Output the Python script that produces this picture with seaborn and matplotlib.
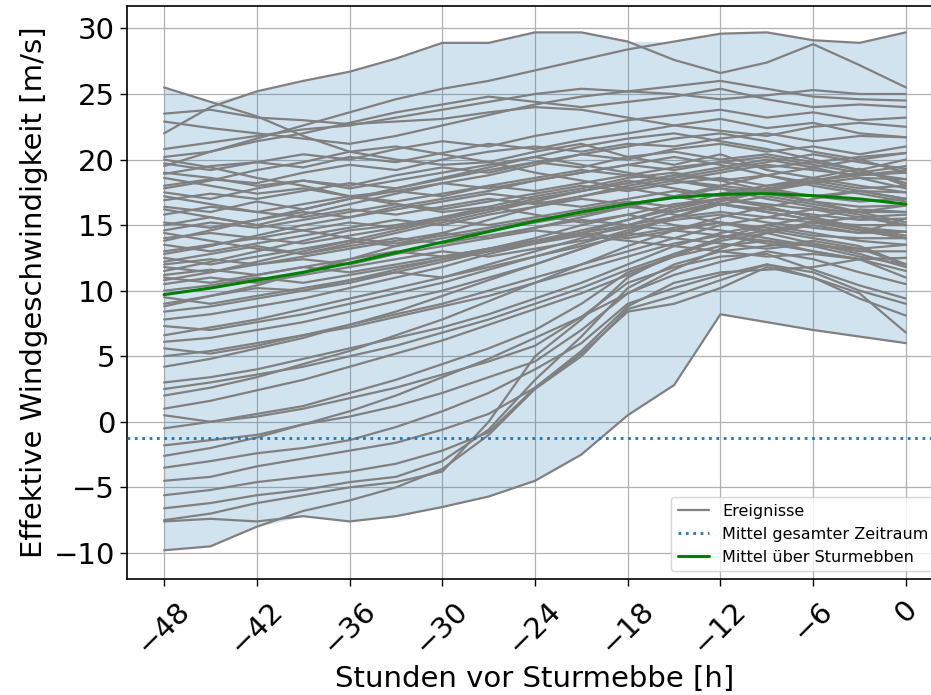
import numpy as np
import pandas as pd
import matplotlib
matplotlib.use("Agg")
import matplotlib.pyplot as plt
from matplotlib.lines import Line2D
import seaborn as sns

# hours before storm ebb (3-hour sampling)
hours = [-48, -45, -42, -39, -36, -33, -30, -27, -24, -21, -18, -15, -12, -9, -6, -3, 0]

# individual events (effective wind speed, m/s)
ev01 = [22.0, 24.0, 25.2, 26.0, 26.7, 27.7, 28.9, 28.9, 29.7, 29.7, 29.0, 27.6, 26.6, 27.4, 28.8, 27.2, 25.5]
ev02 = [19.5, 20.6, 21.6, 22.6, 23.6, 24.6, 25.4, 26.0, 26.8, 27.6, 28.4, 29.0, 29.6, 29.7, 29.1, 28.9, 29.7]
ev03 = [25.5, 24.4, 23.3, 21.8, 20.6, 20.0, 19.6, 19.8, 20.6, 21.2, 20.2, 19.6, 20.4, 19.2, 18.6, 19.3, 18.0]
ev04 = [23.5, 23.8, 23.2, 23.0, 22.7, 22.9, 23.1, 23.6, 24.0, 23.8, 23.2, 22.6, 23.1, 22.4, 22.8, 22.0, 21.7]
ev05 = [22.9, 22.4, 22.0, 21.6, 21.2, 21.8, 22.6, 23.4, 24.2, 24.8, 25.2, 25.0, 24.6, 24.9, 25.3, 25.0, 25.0]
ev06 = [20.8, 21.3, 21.8, 22.3, 22.6, 23.2, 23.8, 24.4, 25.0, 25.4, 25.2, 25.6, 26.0, 25.4, 24.8, 24.6, 24.5]
ev07 = [20.2, 20.6, 21.4, 22.0, 22.8, 23.6, 24.2, 24.8, 24.4, 24.0, 24.4, 24.8, 25.4, 24.6, 24.0, 24.2, 24.0]
ev08 = [18.9, 19.5, 19.8, 20.4, 20.0, 20.8, 21.4, 21.0, 21.8, 22.4, 23.0, 23.4, 23.8, 23.2, 23.6, 23.0, 23.2]
ev09 = [19.7, 19.2, 19.8, 19.4, 20.2, 19.8, 20.5, 21.2, 20.8, 21.5, 22.0, 22.6, 22.2, 21.8, 22.5, 22.8, 22.5]
ev10 = [18.0, 18.5, 18.2, 19.0, 19.6, 19.2, 20.0, 20.6, 21.0, 20.6, 21.2, 21.0, 21.6, 22.0, 21.4, 21.8, 21.7]
ev11 = [17.5, 17.0, 17.8, 18.4, 18.0, 18.8, 19.4, 19.0, 19.8, 20.4, 20.0, 20.8, 21.2, 20.6, 21.0, 20.4, 21.0]
ev12 = [16.9, 17.4, 17.0, 17.6, 18.2, 17.8, 18.5, 19.2, 19.8, 19.4, 20.2, 20.6, 20.0, 20.4, 19.8, 20.2, 20.5]
ev13 = [16.4, 16.0, 16.8, 16.2, 17.0, 17.6, 17.2, 18.0, 18.6, 19.2, 18.8, 19.4, 19.8, 19.4, 19.8, 19.2, 20.0]
ev14 = [18.6, 18.0, 17.4, 17.8, 17.2, 17.6, 18.2, 17.8, 18.4, 19.0, 19.6, 19.2, 19.8, 20.2, 19.6, 19.0, 19.5]
ev15 = [15.8, 16.4, 16.0, 16.6, 17.2, 16.8, 17.4, 18.0, 17.6, 18.2, 18.8, 18.4, 19.0, 19.6, 19.2, 18.8, 19.0]
ev16 = [15.2, 14.8, 15.4, 16.0, 15.6, 16.2, 16.8, 17.4, 17.0, 17.6, 18.2, 18.8, 18.4, 18.8, 18.2, 18.6, 18.5]
ev17 = [14.6, 15.2, 14.8, 15.4, 16.0, 16.6, 16.2, 16.8, 17.4, 18.0, 17.6, 18.2, 18.6, 18.0, 18.4, 17.8, 18.0]
ev18 = [17.2, 16.6, 16.0, 15.6, 16.2, 15.8, 16.4, 17.0, 16.6, 17.2, 17.8, 18.4, 18.0, 17.6, 18.2, 17.6, 17.5]
ev19 = [14.0, 14.4, 14.0, 14.6, 15.2, 14.8, 15.6, 16.2, 16.8, 16.4, 17.0, 17.6, 17.2, 17.8, 17.2, 16.8, 17.0]
ev20 = [13.5, 13.0, 13.6, 14.2, 14.8, 15.4, 15.0, 15.8, 16.4, 17.0, 16.6, 17.2, 17.8, 17.4, 16.8, 16.4, 16.5]
ev21 = [13.0, 13.5, 14.0, 13.6, 14.2, 14.8, 15.4, 15.0, 15.6, 16.2, 16.8, 16.4, 17.0, 16.6, 16.2, 16.0, 16.0]
ev22 = [12.5, 12.0, 12.6, 13.2, 13.8, 13.4, 14.0, 14.6, 15.2, 15.8, 16.4, 16.0, 16.6, 16.2, 15.8, 15.4, 15.5]
ev23 = [12.0, 12.4, 12.0, 12.6, 13.2, 13.8, 14.4, 14.0, 14.8, 15.4, 15.0, 15.6, 16.0, 15.6, 15.2, 15.0, 15.0]
ev24 = [11.8, 11.4, 12.0, 12.4, 12.0, 12.8, 13.4, 14.0, 14.6, 14.2, 14.8, 15.4, 15.8, 15.2, 14.8, 14.4, 14.5]
ev25 = [11.2, 11.6, 11.2, 11.8, 12.4, 13.0, 12.6, 13.2, 13.8, 14.4, 15.0, 14.6, 15.2, 14.8, 14.2, 14.0, 14.0]
ev26 = [11.0, 10.6, 11.2, 11.8, 11.4, 12.0, 12.6, 13.2, 13.8, 14.4, 14.0, 14.6, 14.2, 13.8, 13.4, 13.2, 13.5]
ev27 = [10.5, 11.0, 10.6, 11.2, 11.8, 12.4, 13.0, 12.6, 13.2, 13.8, 14.4, 14.0, 13.6, 13.2, 13.6, 13.0, 13.0]
ev28 = [10.0, 10.4, 11.0, 10.6, 11.2, 11.8, 12.4, 13.0, 13.6, 14.2, 13.8, 13.4, 13.0, 12.6, 12.8, 12.4, 12.5]
ev29 = [9.5, 9.0, 9.6, 10.2, 10.8, 11.4, 11.0, 11.8, 12.6, 13.4, 14.2, 14.8, 15.2, 14.6, 14.0, 13.4, 12.0]
ev30 = [9.0, 9.6, 10.2, 10.0, 10.8, 11.6, 12.4, 13.2, 14.0, 15.0, 15.8, 16.6, 17.0, 16.4, 15.6, 14.8, 14.0]
ev31 = [8.4, 8.8, 9.4, 10.0, 10.6, 11.4, 12.2, 13.0, 13.8, 14.6, 15.4, 16.2, 17.0, 17.6, 17.2, 17.6, 17.0]
ev32 = [7.8, 8.2, 8.8, 9.4, 10.2, 11.0, 11.8, 12.8, 13.6, 14.4, 15.4, 16.4, 17.4, 18.0, 18.6, 18.0, 17.5]
ev33 = [7.3, 7.0, 7.6, 8.2, 9.0, 9.8, 10.6, 11.6, 12.6, 13.6, 14.6, 15.6, 16.6, 17.2, 16.6, 16.0, 16.5]
ev34 = [6.6, 7.2, 7.8, 8.6, 9.4, 10.2, 11.0, 12.0, 13.0, 14.0, 15.0, 16.0, 16.8, 17.6, 18.4, 19.0, 18.5]
ev35 = [6.1, 6.4, 7.0, 7.6, 8.4, 9.2, 10.0, 11.0, 12.0, 13.2, 14.4, 15.6, 16.6, 16.0, 15.4, 14.8, 14.5]
ev36 = [5.6, 5.2, 5.8, 6.6, 7.4, 8.2, 9.0, 10.0, 11.0, 12.0, 13.0, 14.0, 15.0, 15.6, 16.2, 15.6, 15.0]
ev37 = [5.0, 5.4, 6.0, 6.6, 7.2, 8.0, 8.8, 9.6, 10.6, 11.6, 12.6, 13.6, 14.2, 13.6, 13.0, 12.4, 11.0]
ev38 = [3.0, 3.4, 4.0, 4.8, 5.6, 6.4, 7.2, 8.2, 9.4, 10.6, 12.0, 13.4, 14.4, 15.0, 14.4, 13.8, 13.5]
ev39 = [2.5, 3.0, 3.6, 4.2, 5.0, 5.8, 6.8, 7.8, 9.0, 10.2, 11.6, 12.8, 13.8, 14.4, 15.0, 14.4, 15.5]
ev40 = [1.0, 1.6, 2.4, 3.2, 4.2, 5.2, 6.2, 7.4, 8.6, 9.8, 11.2, 12.6, 14.0, 15.0, 15.6, 16.2, 16.0]
ev41 = [0.5, 0.0, 0.6, 1.2, 2.2, 3.2, 4.4, 5.6, 7.0, 9.0, 11.4, 12.6, 13.4, 13.8, 13.0, 12.4, 11.5]
ev42 = [-0.5, 0.0, 0.4, 1.0, 1.8, 2.6, 3.6, 4.6, 5.8, 8.0, 10.6, 11.8, 12.6, 12.8, 11.6, 10.4, 9.4]
ev43 = [-1.8, -1.4, -1.0, -0.2, 0.4, 1.2, 2.2, 3.4, 4.6, 7.0, 9.8, 11.2, 12.2, 13.0, 12.4, 11.4, 10.5]
ev44 = [-3.5, -3.0, -2.4, -2.0, -1.4, -0.4, 0.8, 2.2, 4.0, 6.0, 9.0, 10.2, 11.2, 12.0, 11.0, 9.4, 8.1]
ev45 = [-4.5, -4.2, -3.4, -2.8, -2.2, -1.6, -0.6, 0.6, 2.6, 5.2, 8.4, 9.0, 10.2, 11.8, 11.0, 9.8, 6.8]
ev46 = [-5.6, -5.2, -4.6, -4.2, -3.8, -3.2, -2.2, -0.8, 2.6, 5.4, 8.8, 10.6, 11.4, 11.6, 11.8, 12.4, 12.5]
ev47 = [-6.6, -6.2, -5.6, -5.2, -4.6, -4.2, -3.0, -0.6, 3.2, 6.5, 10.2, 12.0, 13.0, 13.4, 13.8, 13.2, 12.0]
ev48 = [-7.5, -7.0, -6.2, -5.6, -5.0, -4.6, -3.8, 0.0, 5.0, 7.8, 11.0, 12.8, 14.0, 14.6, 15.2, 14.6, 14.0]
ev49 = [-7.6, -7.4, -7.6, -7.2, -7.6, -7.2, -6.5, -5.7, -4.5, -2.5, 0.5, 2.8, 8.2, 7.6, 7.0, 6.5, 6.0]
ev50 = [-9.8, -9.5, -8.0, -6.8, -6.0, -5.0, -3.6, -1.0, 2.5, 5.0, 8.6, 9.6, 10.8, 12.0, 11.4, 10.0, 9.0]
ev51 = [20.0, 19.4, 18.6, 18.0, 17.2, 16.6, 16.0, 16.4, 15.8, 15.2, 15.8, 15.0, 14.6, 14.0, 13.4, 12.6, 12.0]
ev52 = [17.8, 18.4, 19.2, 19.8, 20.6, 21.0, 20.4, 19.8, 19.0, 18.4, 17.8, 17.2, 16.6, 16.0, 15.4, 14.6, 14.0]
ev53 = [15.0, 15.6, 15.0, 15.8, 16.6, 17.4, 18.2, 18.8, 19.6, 20.4, 21.0, 21.6, 22.0, 21.4, 20.6, 20.0, 19.0]
ev54 = [12.8, 13.4, 14.2, 15.0, 15.6, 16.4, 17.0, 17.6, 18.4, 19.0, 19.6, 20.2, 19.6, 18.8, 18.0, 17.4, 16.8]
ev55 = [10.8, 11.4, 12.2, 13.0, 13.8, 14.6, 15.4, 16.2, 17.0, 17.6, 18.2, 18.8, 19.4, 20.0, 19.4, 18.6, 17.8]
ev56 = [14.4, 13.8, 13.2, 12.8, 13.4, 14.0, 13.6, 14.2, 14.8, 15.6, 16.4, 17.2, 18.0, 18.8, 19.4, 20.0, 20.5]
ev57 = [16.2, 15.6, 15.0, 14.6, 14.0, 13.6, 14.2, 14.8, 15.4, 16.0, 16.6, 15.8, 15.2, 14.4, 13.6, 12.8, 11.8]
ev58 = [11.5, 12.2, 13.0, 13.8, 14.6, 15.0, 15.6, 16.4, 17.2, 17.8, 18.6, 19.0, 18.4, 17.6, 16.8, 16.0, 15.2]
ev59 = [13.8, 14.6, 15.4, 16.2, 17.0, 17.8, 18.6, 19.4, 20.2, 21.0, 21.6, 22.0, 21.4, 20.8, 20.0, 19.2, 18.2]
ev60 = [8.8, 9.6, 10.4, 11.4, 12.4, 13.4, 14.4, 15.4, 16.4, 17.2, 18.0, 18.6, 19.2, 19.8, 20.4, 19.8, 19.3]
ev61 = [19.0, 18.6, 18.0, 18.4, 17.8, 18.4, 19.0, 19.6, 20.2, 19.6, 19.0, 18.4, 17.8, 17.0, 16.4, 15.8, 15.0]
ev62 = [12.2, 12.8, 13.4, 12.8, 13.6, 14.4, 15.2, 16.0, 16.8, 17.6, 18.4, 17.8, 17.2, 16.4, 15.6, 14.8, 14.2]
ev63 = [4.2, 4.8, 5.6, 6.4, 7.4, 8.4, 9.6, 10.8, 12.0, 13.2, 14.4, 15.6, 16.8, 17.8, 18.4, 18.8, 19.2]
ev64 = [2.0, 2.6, 3.4, 4.4, 5.4, 6.6, 7.8, 9.2, 10.6, 12.0, 13.4, 14.6, 15.6, 16.4, 17.0, 17.6, 17.0]
ev65 = [-2.6, -2.0, -1.2, -0.2, 0.8, 2.0, 3.4, 4.8, 6.4, 8.0, 9.8, 11.6, 13.2, 14.4, 15.2, 15.6, 15.8]

events = [ev01, ev02, ev03, ev04, ev05, ev06, ev07, ev08, ev09, ev10,
          ev11, ev12, ev13, ev14, ev15, ev16, ev17, ev18, ev19, ev20,
          ev21, ev22, ev23, ev24, ev25, ev26, ev27, ev28, ev29, ev30,
          ev31, ev32, ev33, ev34, ev35, ev36, ev37, ev38, ev39, ev40,
          ev41, ev42, ev43, ev44, ev45, ev46, ev47, ev48, ev49, ev50,
          ev51, ev52, ev53, ev54, ev55, ev56, ev57, ev58, ev59, ev60,
          ev61, ev62, ev63, ev64, ev65]

# mean over storm ebbs (green line)
mean_storm = [9.7, 10.2, 10.8, 11.4, 12.1, 12.9, 13.7, 14.5, 15.3, 16.0, 16.6, 17.1, 17.35, 17.4, 17.25, 17.0, 16.6]
# mean of entire period (dotted line)
mean_total = -1.22

xticks = [-48, -42, -36, -30, -24, -18, -12, -6, 0]
yticks = [-10, -5, 0, 5, 10, 15, 20, 25, 30]

label_events = "Ereignisse"
label_total = "Mittel gesamter Zeitraum"
label_mean = "Mittel über Sturmebben"
xlabel = "Stunden vor Sturmebbe [h]"
ylabel = "Effektive Windgeschwindigkeit [m/s]"

# ---------------------------------------------------------------
sns.set_style("ticks")
plt.rcParams["font.family"] = ["DejaVu Sans"]
plt.rcParams.update({"text.color": "black", "axes.labelcolor": "black",
                     "xtick.color": "black", "ytick.color": "black",
                     "axes.edgecolor": "black"})

rows = []
for i, ev in enumerate(events):
    for h, v in zip(hours, ev):
        rows.append({"event": i, "t": h, "v": v})
df = pd.DataFrame(rows)
env = df.groupby("t")["v"].agg(["min", "max"]).reset_index()
dfm = pd.DataFrame({"t": hours, "v": mean_storm})

fig = plt.figure(figsize=(9.31, 6.95), dpi=100)
ax = fig.add_axes([127 / 931, (695 - 579) / 695, (943 - 127) / 931, (579 - 5.5) / 695])

ax.grid(True, color="#b0b0b0", linewidth=0.9, zorder=0)
ax.set_axisbelow(True)

ax.fill_between(env["t"], env["min"], env["max"], color="#1f77b4", alpha=0.2,
                linewidth=0, zorder=1)
sns.lineplot(data=df, x="t", y="v", units="event", estimator=None, color="gray",
             linewidth=1.6, ax=ax, zorder=2, legend=False)
ax.axhline(mean_total, color="#1f77b4", linestyle=":", linewidth=2, zorder=3)
sns.lineplot(data=dfm, x="t", y="v", color="green", linewidth=2.2, ax=ax,
             zorder=4, legend=False)

ax.set_xlim(-50.4, 2.4)
ax.set_ylim(-11.99, 31.75)
ax.set_xticks(xticks)
ax.set_yticks(yticks)
ax.tick_params(axis="both", labelsize=21, length=5, width=1, color="black",
               labelcolor="black")
ax.tick_params(axis="x", pad=7)
plt.setp(ax.get_xticklabels(), rotation=45)
ax.set_xlabel(xlabel, fontsize=21, color="black")
ax.set_ylabel(ylabel, fontsize=21, color="black")
for s in ax.spines.values():
    s.set_color("black")
    s.set_linewidth(1.2)
    s.set_visible(True)

handles = [Line2D([], [], color="gray", linewidth=1.6),
           Line2D([], [], color="#1f77b4", linestyle=":", linewidth=2),
           Line2D([], [], color="green", linewidth=2.2)]
leg = ax.legend(handles, [label_events, label_total, label_mean], loc="lower right",
                fontsize=11.5, frameon=True, framealpha=0.8, edgecolor="#cccccc")
for t in leg.get_texts():
    t.set_color("black")

fig.savefig("out.png", dpi=100)
